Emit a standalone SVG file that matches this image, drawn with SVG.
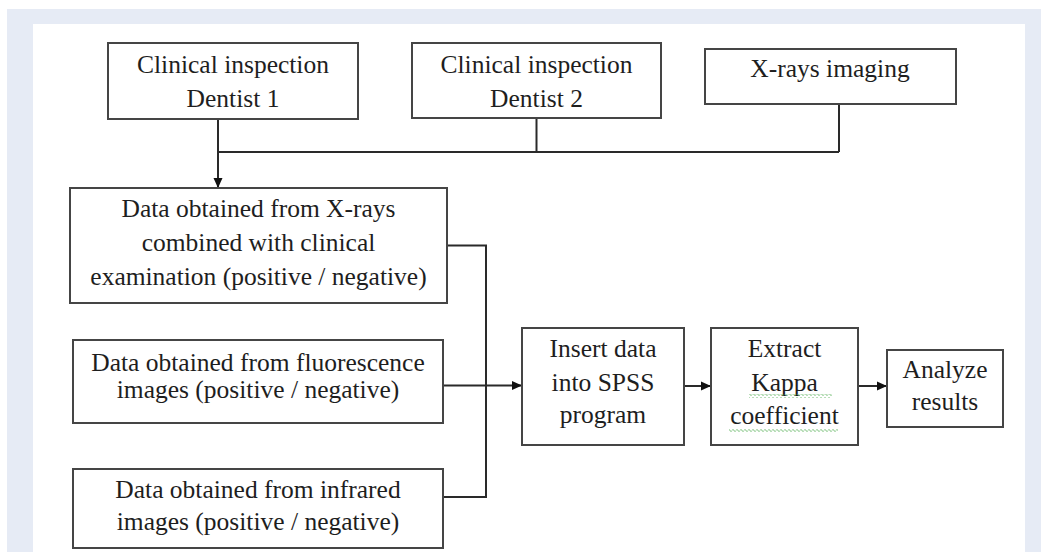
<svg xmlns="http://www.w3.org/2000/svg" width="1041" height="552" viewBox="0 0 1041 552">
<style>
.box{fill:#fff;stroke:#454545;stroke-width:2}
.t{font-family:"Liberation Serif","Times New Roman",serif;font-size:25.5px;fill:#1e1e1e;text-anchor:middle}
.ln{fill:none;stroke:#2a2a2a;stroke-width:2}
</style>
<defs>
<marker id="ah" markerUnits="userSpaceOnUse" markerWidth="10" markerHeight="10" refX="10" refY="5" orient="auto">
<path d="M0,0.5 L10,5 L0,9.5 z" fill="#111"/>
</marker>
<pattern id="wave" patternUnits="userSpaceOnUse" width="4" height="4">
<path d="M0,2.5 Q1,0.5 2,2.5 T4,2.5" fill="none" stroke="#4fae4f" stroke-width="0.9"/>
</pattern>
</defs>
<rect x="0" y="0" width="1041" height="552" fill="#fff"/>
<rect x="7" y="9" width="1034" height="543" fill="#e6ebf5"/>
<rect x="33" y="24" width="992" height="528" fill="#fff"/>

<g id="connectors">
<path class="ln" d="M218,119 V188" marker-end="url(#ah)"/>
<path class="ln" d="M218,152 H839"/>
<path class="ln" d="M536.5,118 V152"/>
<path class="ln" d="M839,104 V152"/>
<path class="ln" d="M447,245.5 H486 V497 H443"/>
<path class="ln" d="M443,385.5 H522" marker-end="url(#ah)"/>
<path class="ln" d="M684,386 H711" marker-end="url(#ah)"/>
<path class="ln" d="M858,386 H887" marker-end="url(#ah)"/>
</g>

<g id="dentist1">
<rect class="box" x="108" y="43" width="250" height="76"/>
<text class="t" x="233" y="73">Clinical inspection</text>
<text class="t" x="233" y="107">Dentist 1</text>
</g>
<g id="dentist2">
<rect class="box" x="412" y="43" width="249" height="75"/>
<text class="t" x="536.5" y="73">Clinical inspection</text>
<text class="t" x="536.5" y="107">Dentist 2</text>
</g>
<g id="xrays">
<rect class="box" x="705" y="49" width="251" height="55"/>
<text class="t" x="830" y="77">X-rays imaging</text>
</g>
<g id="data-xrays">
<rect class="box" x="70" y="188" width="377" height="115"/>
<text class="t" x="258.5" y="217">Data obtained from X-rays</text>
<text class="t" x="258.5" y="251">combined with clinical</text>
<text class="t" x="258.5" y="285">examination (positive / negative)</text>
</g>
<g id="data-fluorescence">
<rect class="box" x="73" y="340" width="370" height="83"/>
<text class="t" x="258" y="371">Data obtained from fluorescence</text>
<text class="t" x="258" y="398">images (positive / negative)</text>
</g>
<g id="data-infrared">
<rect class="box" x="73" y="469" width="370" height="79"/>
<text class="t" x="258" y="498">Data obtained from infrared</text>
<text class="t" x="258" y="530">images (positive / negative)</text>
</g>
<g id="spss">
<rect class="box" x="522" y="328" width="162" height="117"/>
<text class="t" x="603" y="357">Insert data</text>
<text class="t" x="603" y="391">into SPSS</text>
<text class="t" x="603" y="423">program</text>
</g>
<g id="kappa">
<rect class="box" x="711" y="328" width="147" height="117"/>
<text class="t" x="784.5" y="357">Extract</text>
<text class="t" x="784.5" y="391">Kappa</text>
<text class="t" x="784.5" y="424">coefficient</text>
<rect x="749" y="394" width="83" height="4" fill="url(#wave)"/>
<rect x="729" y="428" width="109" height="4" fill="url(#wave)"/>
</g>
<g id="analyze">
<rect class="box" x="887" y="350" width="116" height="77"/>
<text class="t" x="945" y="378">Analyze</text>
<text class="t" x="945" y="410">results</text>
</g>
</svg>
